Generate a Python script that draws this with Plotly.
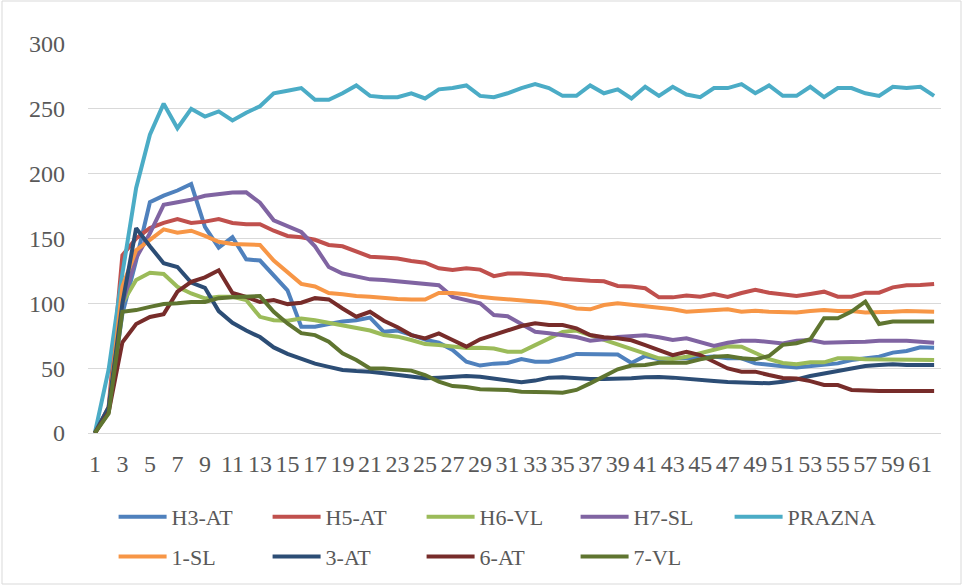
import plotly.graph_objects as go

x_vals = list(range(1, 63))
tick_vals = list(range(1, 62, 2))

h3_at = [0, 18, 92, 133, 178, 183, 187, 192, 159, 143, 151, 134, 133, 122, 110, 82, 82, 84, 86, 87,
         89, 78, 79, 75.6, 72, 69.6, 64, 55, 52, 53.5, 54, 57, 55, 55, 57.6, 61, 60.7, 61, 60.5, 54,
         59.4, 56.8, 57.6, 57.6, 58.3, 58.9, 57.6, 57.6, 53.7, 52.4, 51.5, 50.6, 51.7, 52.4, 53.7, 56.3,
         57.6, 58.9, 62, 63.2, 66.1, 65.8]
h5_at = [0, 20, 137, 150, 158, 162, 165, 162, 163, 165, 162, 161, 161, 156, 152, 151, 149, 145, 144, 140,
         136, 135.4, 134.5, 132.6, 131.3, 127, 125.7, 127, 126, 121, 123, 123, 122.6, 121.5, 119, 118, 117.4,
         117, 113.4, 113, 111.6, 104.6, 104.6, 106, 105.1, 107.2, 105, 108, 110.5, 108.2, 107, 105.6, 107.2,
         109, 105.1, 105.1, 108.2, 108.2, 112.3, 114, 114.1, 114.9]
h6_vl = [0, 18, 100, 118, 123.6, 122.6, 112.8, 107.6, 103.8, 105, 105, 102.5, 89.6, 87, 86.5, 88.3, 87, 85,
         82.5, 80.7, 79, 75.6, 74.3, 71.7, 68.6, 67.8, 66.6, 65.5, 65.8, 65.2, 62.7, 62.7, 67.8, 73, 78, 79,
         75.5, 71.7, 69, 65.5, 61.2, 57.6, 57, 58.8, 61.4, 64.2, 66.8, 66.5, 61.8, 57, 54, 53, 54.5, 54.5,
         57.6, 57.6, 56.8, 56.8, 56.8, 56.3, 56.3, 56.3]
h7_sl = [0, 18, 100, 135, 154, 176, 178, 180, 183, 184, 185.5, 185.6, 177.6, 164, 159.6, 155, 144, 128, 123,
         120.5, 118.5, 118, 117, 115.5, 115, 114, 105, 102.5, 100, 91, 90, 84, 78, 77, 75.5, 74, 71.2, 72.2,
         74, 75, 75.3, 73.8, 71.7, 73, 70.4, 67.1, 69.6, 71.2, 71.2, 70.4, 69.1, 71.2, 71.7, 69.6, 69.6, 70.2,
         70.4, 71.2, 71.2, 71.2, 70.4, 69.6]
prazna = [0, 49, 123, 189, 230, 254, 235, 250, 244, 248, 241, 247, 252, 262, 264, 266, 257, 257, 262, 268,
          260, 259, 259, 262, 258, 265, 266, 268, 260, 259, 262, 266, 269, 266, 260, 260, 268, 262, 265, 258,
          267, 260, 267, 261, 259, 266, 266, 269, 262, 268, 260, 260, 267, 259, 266, 266, 262, 260, 267, 266,
          267, 260]
sl_1 = [0, 18, 113, 141, 149, 157, 154.5, 156, 152, 147.5, 145.7, 145, 145, 133, 123.6, 115, 113, 108, 107,
        105.6, 105, 104, 103.3, 103, 103, 108, 108, 107, 105, 104, 103, 102, 101.3, 100.5, 98.7, 96, 95.4,
        98.7, 100, 99, 97.9, 96.9, 95.4, 93.5, 94.3, 94.8, 95.4, 93.5, 94.3, 93.5, 93.5, 93, 94, 94.8, 94, 94,
        93, 93, 93.5, 94, 93.5, 93.5]
at_3 = [0, 20, 100, 158, 144, 131, 128, 116, 112, 94, 85, 79, 74, 66, 61, 57.5, 53.5, 51, 48.6, 47.8, 47.3,
        46, 44.7, 42.9, 42.2, 42.7, 43.4, 44, 43.4, 42.2, 40.4, 39.1, 40.4, 42.7, 42.9, 42.2, 41.6, 41.6,
        41.6, 42.2, 42.9, 43.2, 42.7, 41.6, 40.9, 40.1, 39.4, 38.8, 38.3, 38.3, 39.6, 41.4, 44, 46, 48, 50,
        51.7, 52.4, 53, 52.4, 52.4, 52.4]
at_6 = [0, 16, 70, 84, 89.5, 91.7, 109, 116.6, 120, 125.5, 108, 105, 101, 102.5, 99.4, 100.5, 104, 103, 96,
        89.7, 93.5, 86.6, 81.5, 75.5, 73, 76.8, 71.7, 66.6, 72.3, 75.6, 79.4, 82.5, 84.6, 83.3, 83.3, 80.7,
        75.6, 73.8, 73, 71.5, 67.8, 64, 60.1, 62.7, 60.1, 55, 49.8, 47.3, 47.3, 44.7, 42.5, 42, 40, 37, 37,
        33.2, 32.6, 32.4, 32.4, 32.4, 32.4, 32.4]
vl_7 = [0, 15, 93.5, 94.8, 97.3, 99.4, 100, 101, 101, 104, 104.6, 105, 105.6, 93.5, 84.5, 77, 75.5, 70.4,
        61.4, 56.3, 49.8, 49.8, 48.6, 48.1, 44.7, 39.6, 36.2, 35.5, 33.7, 33.7, 33.2, 31.9, 31.9, 31.4, 31.1,
        33.2, 38.3, 43.4, 49.1, 52, 52.4, 54.2, 54.2, 54.2, 56.8, 58.8, 59.4, 57.6, 56.8, 59.4, 68, 69.2,
        72.3, 88.5, 88.5, 93.6, 101.3, 84.1, 85.9, 85.9, 85.9, 85.9]

series = [
    ("H3-AT", h3_at, "#4F81BD", "legend"),
    ("H5-AT", h5_at, "#C0504D", "legend"),
    ("H6-VL", h6_vl, "#9BBB59", "legend"),
    ("H7-SL", h7_sl, "#8064A2", "legend"),
    ("PRAZNA", prazna, "#4BACC6", "legend"),
    ("1-SL", sl_1, "#F79646", "legend2"),
    ("3-AT", at_3, "#2C4D75", "legend2"),
    ("6-AT", at_6, "#772C2A", "legend2"),
    ("7-VL", vl_7, "#5F7530", "legend2"),
]

fig = go.Figure()
for name, vals, color, lg in series:
    fig.add_trace(go.Scatter(x=x_vals, y=vals, name=name, mode="lines",
                             line=dict(color=color, width=4), legend=lg))

FONT = "Liberation Serif"
TXT = "#595959"
legend_common = dict(orientation="h", font=dict(family=FONT, size=22, color=TXT),
                     entrywidth=91, entrywidthmode="pixels", itemwidth=48,
                     bgcolor="rgba(0,0,0,0)", xanchor="left", yanchor="middle", traceorder="normal")

fig.update_layout(
    width=963, height=586,
    margin=dict(l=88, r=22, t=44, b=153, autoexpand=False),
    paper_bgcolor="white", plot_bgcolor="white",
    font=dict(family=FONT, color=TXT),
    xaxis=dict(range=[0.5, 62.5], tickmode="array", tickvals=tick_vals,
               ticktext=[str(v) for v in tick_vals], tickangle=0,
               tickfont=dict(family=FONT, size=24, color=TXT),
               showgrid=False, showline=True, linecolor="#D9D9D9", linewidth=1,
               ticks="", zeroline=False, ticklabelstandoff=9),
    yaxis=dict(range=[0, 300], tickmode="array", tickvals=[0, 50, 100, 150, 200, 250, 300],
               tickfont=dict(family=FONT, size=24, color=TXT),
               showgrid=True, gridcolor="#D9D9D9", gridwidth=1, zeroline=False,
               ticks="", ticklabelstandoff=22),
    legend=dict(x=0.03, y=-0.216, **legend_common),
    legend2=dict(x=0.03, y=-0.318, **legend_common),
    shapes=[dict(type="rect", xref="paper", yref="paper",
                 x0=-86/853, x1=(961-88)/853, y0=-(584-433)/389, y1=(433-1)/389,
                 line=dict(color="#D9D9D9", width=1), fillcolor="rgba(0,0,0,0)", layer="below")],
)

fig.write_html("out.html", config={"displayModeBar": False},
               post_script="document.body.style.margin='0';")
